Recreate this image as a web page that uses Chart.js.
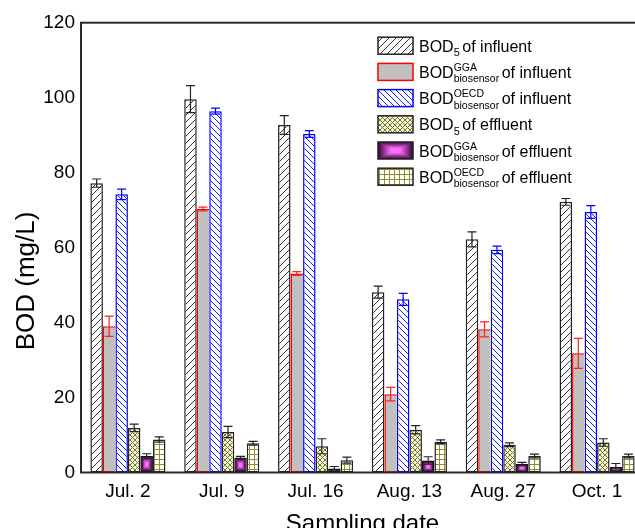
<!DOCTYPE html>
<html lang="en">
<head>
<meta charset="UTF-8">
<title>BOD of influent and effluent</title>
<script src="https://cdn.jsdelivr.net/npm/chart.js"></script>
<style>
    html, body {
        margin: 0;
        padding: 0;
        background: #fff;
        overflow: hidden;
        width: 635px;
        height: 528px;
    }
    #wrap {
        position: relative;
        width: 660px;
        height: 545px;
    }
</style>
</head>
<body>
<div id="wrap"><canvas id="bodChart" width="660" height="545"></canvas></div>
<script>
    const dates = ["Jul. 2", "Jul. 9", "Jul. 16", "Aug. 13", "Aug. 27", "Oct. 1"];
    const yTicks = [0, 20, 40, 60, 80, 100, 120];

    const bod5In = [77.2, 99.6, 92.7, 48.1, 62.2, 72.2];
    const bod5InErr = [1.1, 3.6, 2.5, 1.6, 2.0, 0.9];
    const ggaIn = [39.0, 70.3, 53.1, 20.9, 38.2, 31.8];
    const ggaInErr = [2.7, 0.5, 0.5, 1.8, 2.0, 4.0];
    const oecdIn = [74.2, 96.4, 90.3, 46.2, 59.4, 69.5];
    const oecdInErr = [1.4, 0.8, 0.9, 1.6, 1.0, 1.7];
    const bod5Eff = [11.9, 10.8, 7.0, 11.4, 7.4, 8.0];
    const bod5EffErr = [1.0, 1.5, 2.0, 1.1, 0.5, 1.0];
    const ggaEff = [4.4, 4.0, 1.1, 3.2, 2.3, 1.5];
    const ggaEffErr = [0.6, 0.3, 0.5, 1.0, 0.4, 0.9];
    const oecdEff = [8.8, 7.8, 3.3, 8.2, 4.4, 4.4];
    const oecdEffErr = [0.7, 0.5, 0.8, 0.5, 0.5, 0.5];

    // legend text pieces
    const legMain = ["BOD", "BOD", "BOD", "BOD", "BOD", "BOD"];
    const legSup = ["", "GGA", "OECD", "", "GGA", "OECD"];
    const legSub = ["5", "biosensor", "biosensor", "5", "biosensor", "biosensor"];
    const legTail = ["of influent", "of influent", "of influent", "of effluent", "of effluent", "of effluent"];

    const FONT = "'Liberation Sans', Arial, sans-serif";

    function makePattern(size, bg, fg, lw, draw) {
        const c = document.createElement("canvas");
        c.width = c.height = size;
        const g = c.getContext("2d");
        g.fillStyle = bg;
        g.fillRect(0, 0, size, size);
        g.strokeStyle = fg;
        g.lineWidth = lw;
        draw(g, size);
        return g.createPattern(c, "repeat");
    }
    function fwd(g, s) {
        g.beginPath();
        g.moveTo(0, s); g.lineTo(s, 0);
        g.moveTo(-1, 1); g.lineTo(1, -1);
        g.moveTo(s - 1, s + 1); g.lineTo(s + 1, s - 1);
        g.stroke();
    }
    function back(g, s) {
        g.beginPath();
        g.moveTo(0, 0); g.lineTo(s, s);
        g.moveTo(-1, s - 1); g.lineTo(1, s + 1);
        g.moveTo(s - 1, -1); g.lineTo(s + 1, 1);
        g.stroke();
    }

    const patBlack = makePattern(7, "#fff", "#333", 1, fwd);
    const patBlue = makePattern(6, "#fff", "#1a1aff", 1, back);
    const patCross = makePattern(5, "#f4f4d8", "#77772a", 1, (g, s) => { fwd(g, s); back(g, s); });
    const patGrid = makePattern(5, "#fff", "#8f8f30", 1, (g, s) => {
        g.beginPath();
        g.moveTo(0, s - 0.5); g.lineTo(s, s - 0.5);
        g.moveTo(s - 0.5, 0); g.lineTo(s - 0.5, s);
        g.stroke();
    });

    function glowRect(g, x, y, w, h) {
        const steps = 12;
        const a = [60, 8, 60], b = [255, 110, 255];
        for (let i = 0; i <= steps; i++) {
            const t = i / steps;
            const c = a.map((v, k) => Math.round(v + (b[k] - v) * t));
            const ix = t * w * 0.36, iy = t * h * 0.36;
            g.fillStyle = "rgb(" + c.join(",") + ")";
            g.fillRect(x + ix, y + iy, w - 2 * ix, h - 2 * iy);
        }
    }

    const legFill = [patBlack, "#c0c0c0", patBlue, patCross, null, patGrid];
    const legBorder = ["#222", "#ff0000", "#0000ff", "#222", "#222", "#222"];

    const bodPlugin = {
        id: "bodExtras",
        afterDatasetsDraw(chart) {
            const g = chart.ctx;
            const ys = chart.scales.y;
            // gradient fill of the GGA effluent bars
            chart.getDatasetMeta(4).data.forEach(bar => {
                const p = bar.getProps(["x", "y", "base", "width"], true);
                const bw = 1.5;
                glowRect(g, p.x - p.width / 2 + bw, p.y + bw, p.width - 2 * bw, p.base - p.y - 2 * bw);
            });
            // error bars
            chart.data.datasets.forEach((ds, i) => {
                g.save();
                g.strokeStyle = ds.errColor;
                g.lineWidth = 1.2;
                chart.getDatasetMeta(i).data.forEach((bar, j) => {
                    const v = ds.data[j], e = ds.errors[j];
                    const yt = ys.getPixelForValue(v + e), yb = ys.getPixelForValue(v - e);
                    g.beginPath();
                    g.moveTo(bar.x, yt); g.lineTo(bar.x, yb);
                    g.moveTo(bar.x - 4.5, yt); g.lineTo(bar.x + 4.5, yt);
                    g.moveTo(bar.x - 4.5, yb); g.lineTo(bar.x + 4.5, yb);
                    g.stroke();
                });
                g.restore();
            });
        },
        afterDraw(chart) {
            const g = chart.ctx;
            const a = chart.chartArea;
            g.save();
            // frame
            g.strokeStyle = "#2a2a2a";
            g.lineWidth = 2;
            g.strokeRect(a.left, a.top, a.right - a.left, a.bottom - a.top);

            // axis titles
            g.fillStyle = "#000";
            g.font = "24px " + FONT;
            g.textAlign = "center";
            g.textBaseline = "alphabetic";
            g.fillText("Sampling date", (a.left + a.right) / 2, 531);
            g.save();
            g.translate(34, 281);
            g.rotate(-Math.PI / 2);
            g.font = "26px " + FONT;
            g.fillText("BOD (mg/L)", 0, 0);
            g.restore();

            // legend
            g.textAlign = "left";
            for (let i = 0; i < legMain.length; i++) {
                const base = 51.7 + 26.2 * i;
                const sx = 378, sy = base - 14.5, sw = 35, sh = 17;
                if (legFill[i]) {
                    g.fillStyle = legFill[i];
                    g.fillRect(sx, sy, sw, sh);
                } else {
                    glowRect(g, sx, sy, sw, sh);
                }
                g.strokeStyle = legBorder[i];
                g.lineWidth = 1.5;
                g.strokeRect(sx, sy, sw, sh);

                g.fillStyle = "#000";
                g.font = "16px " + FONT;
                let x = 419;
                g.fillText(legMain[i], x, base);
                x += g.measureText(legMain[i]).width;
                let w = 0;
                if (legSup[i]) {
                    g.font = "10.5px " + FONT;
                    g.fillText(legSup[i], x, base - 7);
                    w = g.measureText(legSup[i]).width;
                }
                g.font = (legSub[i] === "5" ? "11px " : "10.5px ") + FONT;
                g.fillText(legSub[i], x, base + 4.5);
                w = Math.max(w, g.measureText(legSub[i]).width);
                x += w + 2.5;
                g.font = "16px " + FONT;
                g.fillText(legTail[i], x, base);
            }
            g.restore();
        }
    };

    const ctx = document.getElementById("bodChart").getContext("2d");
    new Chart(ctx, {
        type: "bar",
        data: {
            labels: dates,
            datasets: [
                { label: "BOD5 of influent", data: bod5In, errors: bod5InErr, errColor: "#222",
                  backgroundColor: patBlack, borderColor: "#222", borderWidth: 1.5, borderSkipped: false },
                { label: "BOD GGA biosensor of influent", data: ggaIn, errors: ggaInErr, errColor: "#ff2020",
                  backgroundColor: "#c0c0c0", borderColor: "#ff0000", borderWidth: 1.5, borderSkipped: "right" },
                { label: "BOD OECD biosensor of influent", data: oecdIn, errors: oecdInErr, errColor: "#0000ff",
                  backgroundColor: patBlue, borderColor: "#0000ff", borderWidth: 1.5, borderSkipped: false },
                { label: "BOD5 of effluent", data: bod5Eff, errors: bod5EffErr, errColor: "#222",
                  backgroundColor: patCross, borderColor: "#222", borderWidth: 1.5, borderSkipped: false },
                { label: "BOD GGA biosensor of effluent", data: ggaEff, errors: ggaEffErr, errColor: "#222",
                  backgroundColor: "#3c083c", borderColor: "#111", borderWidth: 1.5, borderSkipped: false },
                { label: "BOD OECD biosensor of effluent", data: oecdEff, errors: oecdEffErr, errColor: "#222",
                  backgroundColor: patGrid, borderColor: "#222", borderWidth: 1.5, borderSkipped: false }
            ]
        },
        options: {
            responsive: false,
            devicePixelRatio: 1,
            animation: false,
            datasets: { bar: { categoryPercentage: 0.8, barPercentage: 1.0 } },
            layout: { padding: { top: 22.7, right: 16, left: 0, bottom: 0 } },
            plugins: { legend: { display: false }, tooltip: { enabled: false } },
            scales: {
                x: {
                    grid: { display: false, drawTicks: false },
                    border: { display: false },
                    ticks: { color: "#000", font: { family: FONT, size: 19 }, padding: 8, maxRotation: 0 },
                    afterFit: s => { s.height = 72.5; }
                },
                y: {
                    min: 0,
                    max: 120,
                    grid: { display: false, drawTicks: false },
                    border: { display: false },
                    ticks: { color: "#000", font: { family: FONT, size: 19 }, padding: 6 },
                    afterBuildTicks: s => { s.ticks = yTicks.map(v => ({ value: v })); },
                    afterFit: s => { s.width = 81; }
                }
            }
        },
        plugins: [bodPlugin]
    });
</script>
</body>
</html>
